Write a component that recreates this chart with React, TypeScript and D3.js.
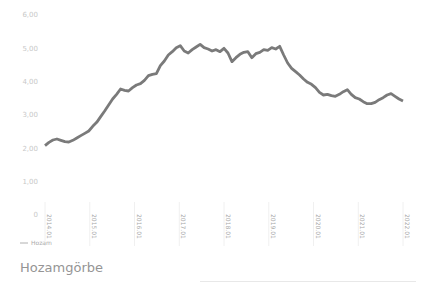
import { useEffect, useRef } from 'react';
import * as d3 from 'd3';

const W = 424
const H = 283
const margin = { top: 15, right: 21, bottom: 73, left: 45 }

// daily yield values
const values = [
  2.08, 2.18, 2.25, 2.28, 2.24, 2.20, 2.19, 2.24, 2.31, 2.38,
  2.45, 2.52, 2.66, 2.78, 2.95, 3.12, 3.30, 3.48, 3.62, 3.78,
  3.74, 3.72, 3.82, 3.90, 3.94, 4.04, 4.18, 4.22, 4.24, 4.48,
  4.62, 4.80, 4.90, 5.02, 5.08, 4.92, 4.86, 4.96, 5.04, 5.12,
  5.02, 4.98, 4.92, 4.96, 4.90, 5.00, 4.86, 4.60, 4.72, 4.82,
  4.88, 4.90, 4.72, 4.84, 4.88, 4.96, 4.94, 5.02, 4.98, 5.06,
  4.80, 4.56, 4.40, 4.30, 4.20, 4.08, 3.98, 3.92, 3.82, 3.68,
  3.60, 3.62, 3.58, 3.56, 3.62, 3.70, 3.76, 3.62, 3.52, 3.48,
  3.40, 3.34, 3.34, 3.38, 3.46, 3.52, 3.60, 3.64, 3.56, 3.48,
  3.42,
]

const yTicks = [0, 1, 2, 3, 4, 5, 6]
const yTickLabels = ['0', '1,00', '2,00', '3,00', '4,00', '5,00', '6,00']
const xTickLabels = ['2014.01', '2015.01', '2016.01', '2017.01', '2018.01', '2019.01', '2020.01', '2021.01', '2022.01']

const title = 'Hozamgörbe'
const legendLabel = 'Hozam'

const Chart = () => {
  const ref = useRef(null)

  useEffect(() => {
    if (!ref.current) return
    const svg = d3.select(ref.current)
    svg.selectAll('*').remove()

    const x = d3.scaleLinear()
      .domain([0, values.length - 1])
      .range([margin.left, W - margin.right])
    const y = d3.scaleLinear()
      .domain([0, 6])
      .range([H - margin.bottom + 5, margin.top])

    // y labels
    svg.append('g')
      .selectAll('text')
      .data(yTicks)
      .enter()
      .append('text')
      .attr('x', 38)
      .attr('y', d => y(d))
      .attr('dy', '0.35em')
      .attr('text-anchor', 'end')
      .attr('font-size', 7)
      .attr('font-family', 'DejaVu Sans, sans-serif')
      .attr('fill', '#c8c8c8')
      .text((d, i) => yTickLabels[i])

    // x ticks
    const step = (values.length - 1) / (xTickLabels.length - 1)
    const tg = svg.append('g')
      .selectAll('g')
      .data(xTickLabels)
      .enter()
      .append('g')
      .attr('transform', (d, i) => `translate(${x(i * step)},0)`)
    tg.append('line')
      .attr('y1', 202).attr('y2', 246)
      .attr('stroke', '#f0f0f0')
    tg.append('text')
      .attr('transform', 'translate(2,214) rotate(90)')
      .attr('font-size', 6)
      .attr('font-family', 'DejaVu Sans, sans-serif')
      .attr('fill', '#a8a8a8')
      .text(d => d)

    // line
    const line = d3.line<number>()
      .x((d, i) => x(i))
      .y(d => y(d))
    svg.append('path')
      .datum(values)
      .attr('d', line)
      .attr('fill', 'none')
      .attr('stroke', '#7a7a7a')
      .attr('stroke-width', 2.8)
      .attr('stroke-linejoin', 'round')

    // legend
    svg.append('line')
      .attr('x1', 20).attr('x2', 28).attr('y1', 243).attr('y2', 243)
      .attr('stroke', '#b0b0b0')
    svg.append('text')
      .attr('x', 31).attr('y', 245)
      .attr('font-size', 6)
      .attr('font-family', 'DejaVu Sans, sans-serif')
      .attr('fill', '#aaa')
      .text(legendLabel)

    // title
    svg.append('text')
      .attr('x', 20).attr('y', 272)
      .attr('font-size', 13)
      .attr('font-family', 'DejaVu Sans, sans-serif')
      .attr('fill', '#959595')
      .text(title)

    svg.append('line')
      .attr('x1', 200).attr('x2', 416).attr('y1', 281.5).attr('y2', 281.5)
      .attr('stroke', '#e8e8e8')
  }, [])

  return (
    <svg ref={ref} width={W} height={H} style={{ position: 'absolute', left: 0, top: 0, background: '#fff' }} />
  )
}

export default function App() {
  return <Chart />
}
